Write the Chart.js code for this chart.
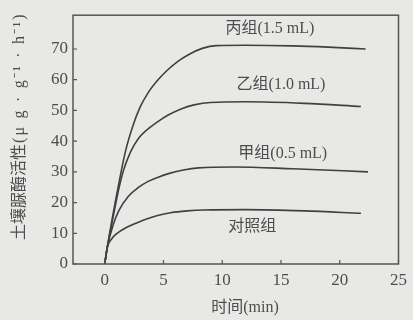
<!DOCTYPE html>
<html><head><meta charset="utf-8">
<script src="https://cdn.jsdelivr.net/npm/chart.js@4"></script>
<style>html,body{margin:0;padding:0;background:#e8e8e6;}#wrap{width:413px;height:320px;}</style>
</head><body><div id="wrap"><canvas id="c" width="413" height="320"></canvas></div>
<script>
const xTicks = [0, 5, 10, 15, 20, 25];
const yTicks = [0, 10, 20, 30, 40, 50, 60, 70];
const xTitle = '时间(min)';
const yTitleMain = '土壤脲酶活性';
const yTitleUnit = '(μ g · g⁻¹ · h⁻¹)';
const seriesNames = ["丙组(1.5 mL)", "乙组(1.0 mL)", "甲组(0.5 mL)", "对照组"];
const bingX = [0, 0.22, 0.92, 1.76, 2.4, 3, 3.7, 4.5, 5.3, 6.2, 7.2, 8.3, 9.5, 12, 16, 19, 22.2];
const bingY = [0, 5.5, 20.6, 36.6, 45, 51, 55.8, 59.8, 63, 65.9, 68.3, 70.2, 71.1, 71.2, 71, 70.6, 70];
const yiX = [0, 0.22, 0.7, 1.2, 1.6, 2.2, 2.9, 3.7, 4.5, 5.4, 6.5, 7.6, 9, 12, 17, 21.8];
const yiY = [0, 5.5, 15, 24.5, 30.5, 36.5, 41, 44, 46.3, 48.5, 50.5, 51.8, 52.6, 52.8, 52.3, 51.3];
const jiaX = [0, 0.22, 0.7, 1.2, 2, 2.9, 3.7, 4.5, 5.5, 6.7, 8, 11, 16, 22.4];
const jiaY = [0, 5.5, 12.5, 17.4, 22, 25, 26.9, 28.2, 29.5, 30.6, 31.3, 31.6, 31, 30];
const ctrlX = [0, 0.22, 0.6, 1.06, 1.8, 2.6, 3.5, 4.5, 5.6, 7, 8.5, 12, 17, 21.8];
const ctrlY = [0, 5.5, 8.2, 10, 11.8, 13.2, 14.6, 15.8, 16.7, 17.3, 17.6, 17.7, 17.3, 16.5];
// label anchor points in data units [x, y]
const labelPos = [[14.06, 76.7], [15.0, 58.4], [15.15, 36], [12.55, 12]];

const pts = (xs, ys) => xs.map((x, i) => ({x, y: ys[i]}));
const ink = '#404040';
const txt = '#4d4d4d';
const serif = '"Liberation Serif", "Noto Sans CJK SC", serif';

const frame = {
  id: 'frame',
  afterDraw(chart) {
    const {ctx, chartArea: a, scales: {x, y}} = chart;
    ctx.save();
    ctx.strokeStyle = '#555';
    ctx.lineWidth = 1.5;
    ctx.strokeRect(a.left, a.top, a.right - a.left, a.bottom - a.top);
    ctx.lineWidth = 1.2;
    ctx.beginPath();
    yTicks.forEach(v => { const py = y.getPixelForValue(v); ctx.moveTo(a.left, py); ctx.lineTo(a.left + 4, py); });
    xTicks.forEach(v => { const px = x.getPixelForValue(v); ctx.moveTo(px, a.bottom); ctx.lineTo(px, a.bottom - 4); });
    ctx.stroke();
    ctx.fillStyle = txt;
    ctx.font = '16px ' + serif;
    ctx.textAlign = 'center';
    ctx.textBaseline = 'middle';
    seriesNames.forEach((n, i) => {
      ctx.fillText(n, x.getPixelForValue(labelPos[i][0]), y.getPixelForValue(labelPos[i][1]));
    });
    // axis titles
    ctx.fillText(xTitle, 245, 308);
    ctx.translate(20, 240);
    ctx.rotate(-Math.PI / 2);
    ctx.textAlign = 'left';
    ctx.fillText(yTitleMain, 0, 0);
    const w = ctx.measureText(yTitleMain).width;
    ctx.letterSpacing = '2.2px';
    ctx.fillText(yTitleUnit, w + 1, 0);
    ctx.restore();
  }
};

const mk = (xs, ys) => ({data: pts(xs, ys), borderColor: ink, borderWidth: 1.6, pointRadius: 0, showLine: true, fill: false, cubicInterpolationMode: 'monotone'});

new Chart(document.getElementById('c'), {
  type: 'scatter',
  data: { datasets: [mk(bingX, bingY), mk(yiX, yiY), mk(jiaX, jiaY), mk(ctrlX, ctrlY)] },
  options: {
    responsive: false, animation: false,
    layout: { padding: { top: 12, right: 10, left: 0, bottom: 0 } },
    plugins: { legend: { display: false }, tooltip: { enabled: false } },
    scales: {
      x: {
        type: 'linear', min: -2.7, max: 25,
        afterBuildTicks: s => { s.ticks = xTicks.map(v => ({value: v})); },
        afterFit: s => { s.height = 56; },
        grid: { display: false, drawTicks: false },
        border: { display: false },
        ticks: { color: txt, padding: 6, font: { family: '"Liberation Serif", serif', size: 17 } },
        title: { display: false }
      },
      y: {
        type: 'linear', min: 0, max: 81,
        afterBuildTicks: s => { s.ticks = yTicks.map(v => ({value: v})); },
        afterFit: s => { s.width = 73; },
        grid: { display: false, drawTicks: false },
        border: { display: false },
        ticks: { color: txt, padding: 5, font: { family: '"Liberation Serif", serif', size: 17 } },
        title: { display: false }
      }
    }
  },
  plugins: [frame]
});
</script></body></html>
